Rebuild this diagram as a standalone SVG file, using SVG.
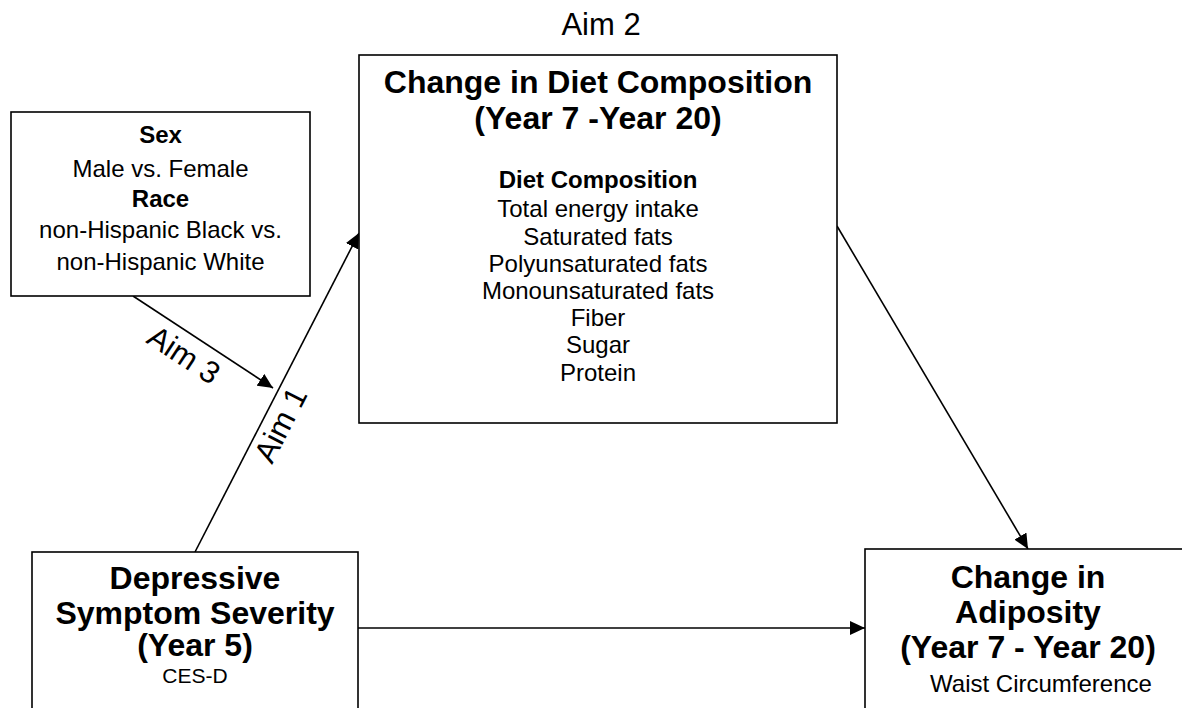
<svg xmlns="http://www.w3.org/2000/svg" width="1182" height="708" viewBox="0 0 1182 708">
<style>
text{font-family:"Liberation Sans",Arial,sans-serif;fill:#000;}
.box{fill:#fff;stroke:#000;stroke-width:1.6;}
.t{font-size:32px;font-weight:bold;text-anchor:middle;}
.b{font-size:24px;font-weight:bold;text-anchor:middle;}
.r{font-size:24px;text-anchor:middle;}
.aim{font-size:31px;}
.edge{stroke:#000;stroke-width:1.6;fill:none;marker-end:url(#ah);}
</style>
<defs>
<marker id="ah" markerUnits="userSpaceOnUse" markerWidth="16" markerHeight="14" refX="15" refY="7" orient="auto">
<path d="M0,0 L15,7 L0,14 Z" fill="#000"/>
</marker>
</defs>
<rect width="1182" height="708" fill="#fff"/>
<g id="connectors">
<line class="edge" x1="195" y1="552" x2="359" y2="233"/>
<line class="edge" x1="133" y1="296" x2="273" y2="388"/>
<line class="edge" x1="837" y1="226" x2="1028" y2="549"/>
<line class="edge" x1="358" y1="628" x2="865" y2="628"/>
</g>
<g id="labels">
<text class="aim" text-anchor="middle" x="601" y="35">Aim 2</text>
<text class="aim" transform="translate(145,342) rotate(33.3)">Aim 3</text>
<text class="aim" transform="translate(272,465) rotate(-62.8)">Aim 1</text>
</g>
<g id="sex-race">
<rect class="box" x="11" y="112" width="299" height="184"/>
<text class="b" x="160.5" y="143">Sex</text>
<text class="r" x="160.5" y="177">Male vs. Female</text>
<text class="b" x="160.5" y="207">Race</text>
<text class="r" x="160.5" y="238">non-Hispanic Black vs.</text>
<text class="r" x="160.5" y="270">non-Hispanic White</text>
</g>
<g id="diet">
<rect class="box" x="359" y="55" width="478" height="368"/>
<text class="t" x="598" y="93">Change in Diet Composition</text>
<text class="t" x="598" y="129">(Year 7 -Year 20)</text>
<text class="b" x="598" y="188">Diet Composition</text>
<text class="r" x="598" y="217">Total energy intake</text>
<text class="r" x="598" y="245">Saturated fats</text>
<text class="r" x="598" y="272">Polyunsaturated fats</text>
<text class="r" x="598" y="299">Monounsaturated fats</text>
<text class="r" x="598" y="326">Fiber</text>
<text class="r" x="598" y="353">Sugar</text>
<text class="r" x="598" y="381">Protein</text>
</g>
<g id="depressive">
<rect class="box" x="32" y="552" width="326" height="170"/>
<text class="t" x="195" y="589">Depressive</text>
<text class="t" x="195" y="624">Symptom Severity</text>
<text class="t" x="195" y="656">(Year 5)</text>
<text class="r" x="195" y="683" style="font-size:21px">CES-D</text>
</g>
<g id="adiposity">
<rect class="box" x="865" y="549" width="330" height="170"/>
<text class="t" x="1028" y="588">Change in</text>
<text class="t" x="1028" y="623">Adiposity</text>
<text class="t" x="1028" y="658">(Year 7 - Year 20)</text>
<text class="r" x="1041" y="692">Waist Circumference</text>
</g>
</svg>
